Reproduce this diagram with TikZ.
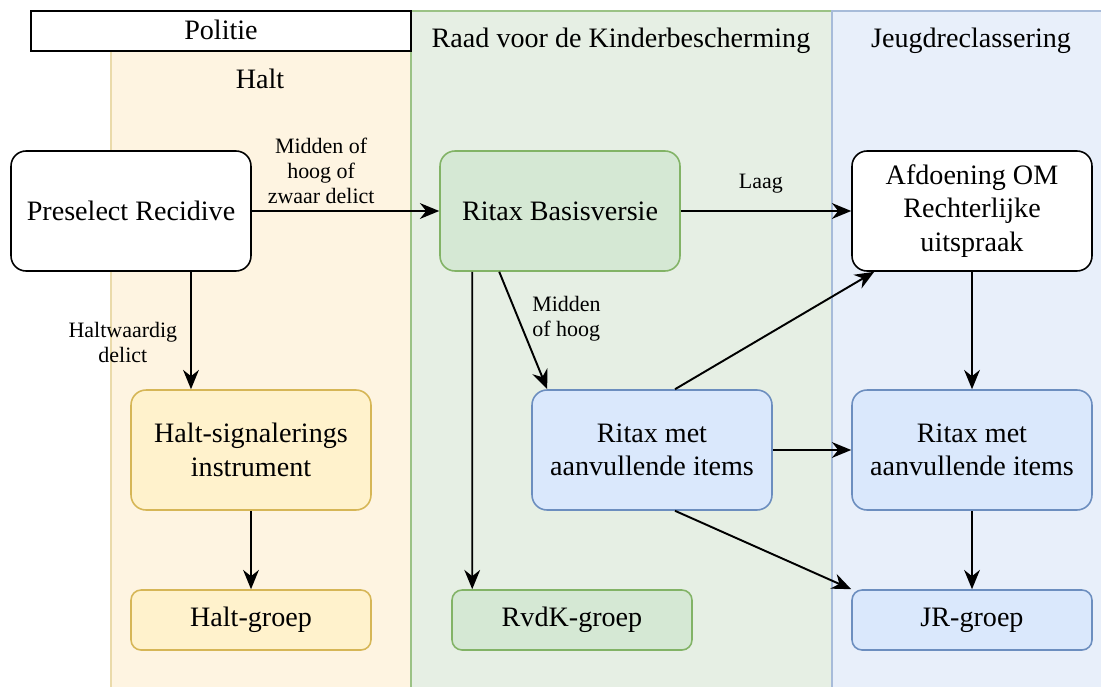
\documentclass[tikz,border=0pt]{standalone}
\usepackage{fontspec}
\setmainfont{Liberation Serif}
\usetikzlibrary{arrows.meta}
\definecolor{haltfill}{HTML}{FFF2CC}
\definecolor{haltdraw}{HTML}{D6B656}
\definecolor{haltlane}{HTML}{FEF4E1}
\definecolor{rvdkfill}{HTML}{D5E8D4}
\definecolor{rvdkdraw}{HTML}{82B366}
\definecolor{rvdklane}{HTML}{E6EFE4}
\definecolor{jrfill}{HTML}{DAE8FC}
\definecolor{jrdraw}{HTML}{6C8EBF}
\definecolor{jrlane}{HTML}{E8EFFA}
\begin{document}
\begin{tikzpicture}
[
    x=0.02cm, y=-0.02cm,
    box/.style={draw, rounded corners=0.3cm, line width=0.9pt, minimum width=4.8cm,
        minimum height=2.4cm, align=center, font=\fontsize{16}{19}\selectfont},
    groep/.style={box, minimum height=1.2cm, rounded corners=0.2cm},
    halt/.style={fill=haltfill, draw=haltdraw},
    rvdk/.style={fill=rvdkfill, draw=rvdkdraw},
    jr/.style={fill=jrfill, draw=jrdraw},
    title/.style={font=\fontsize{16}{19}\selectfont},
    lbl/.style={font=\fontsize{12.5}{14.5}\selectfont, align=center},
    arr/.style={-{Stealth[length=11pt, width=9pt]}, line width=1.1pt},
]
\useasboundingbox (0,0) rectangle (1101,686);
% lanes
\filldraw[fill=haltlane, draw=haltdraw!50, line width=0.8pt] (111,51) rectangle (411,700);
\filldraw[fill=rvdklane, draw=rvdkdraw!80, line width=0.8pt] (411,11) rectangle (832,700);
\filldraw[fill=jrlane, draw=jrdraw!60, line width=0.8pt] (832,11) rectangle (1110,700);
\filldraw[fill=white, draw=black, line width=1.2pt] (31,11) rectangle (411,51);
\node[title] (politie) at (221,30) {Politie};
\node[title] (halttitel) at (260,79) {Halt};
\node[title] (rvdktitel) at (621,41) {Raad voor de Kinderbescherming};
\node[title] (jrtitel) at (971,41) {Jeugdreclassering};

\node[box, fill=white] (preselect) at (131,211) {Preselect Recidive};
\node[box, rvdk] (basis) at (560,211) {Ritax Basisversie};
\node[box, fill=white] (afdoening) at (972,211) {Afdoening OM\\Rechterlijke\\uitspraak};
\node[box, halt] (haltsig) at (251,450) {Halt-signalerings\\instrument};
\node[box, jr] (ritaxm) at (652,450) {Ritax met\\aanvullende items};
\node[box, jr] (ritaxjr) at (972,450) {Ritax met\\aanvullende items};
\node[groep, halt] (haltgroep) at (251,620) {Halt-groep};
\node[groep, rvdk] (rvdkgroep) at (572,620) {RvdK-groep};
\node[groep, jr] (jrgroep) at (972,620) {JR-groep};

\draw[arr] (preselect) -- node[lbl, above, pos=0.37] (lblzwaar) {Midden of\\hoog of\\zwaar delict} (basis);
\draw[arr] (basis) -- node[lbl, above=6pt, pos=0.47] (lbllaag) {Laag} (afdoening);
\draw[arr] ([xshift=1.2cm]preselect.south) -- node[lbl, left=4pt, pos=0.6] (lblhalt) {Haltwaardig\\delict} ([xshift=1.2cm]preselect.south |- haltsig.north);
\draw[arr] (haltsig) -- (haltgroep);
\draw[arr] ([xshift=0.66cm]basis.south west) -- ([xshift=0.42cm]rvdkgroep.north west);
\draw[arr] ([xshift=1.2cm]basis.south west) -- node[lbl, right=4pt, align=left, pos=0.4] (lblmidden) {Midden\\of hoog} ([xshift=0.32cm]ritaxm.north west);
\draw[arr] ([xshift=0.46cm]ritaxm.north) -- ([xshift=0.46cm]afdoening.south west);
\draw[arr] (ritaxm) -- (ritaxjr);
\draw[arr] ([xshift=0.46cm]ritaxm.south) -- (jrgroep.north west);
\draw[arr] (afdoening) -- (ritaxjr);
\draw[arr] (ritaxjr) -- (jrgroep);
\end{tikzpicture}
\end{document}
